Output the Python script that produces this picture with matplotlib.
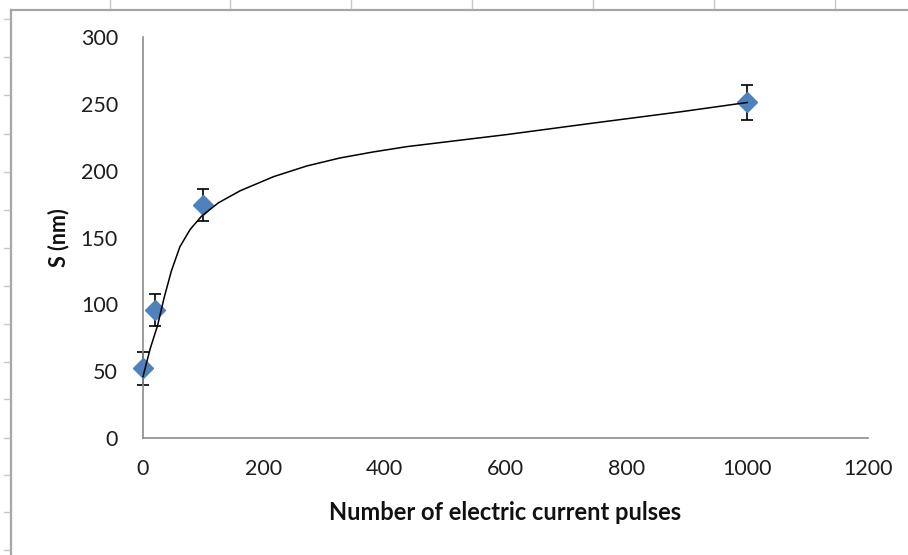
import matplotlib
matplotlib.use('Agg')
import matplotlib.pyplot as plt
from matplotlib.lines import Line2D

# Data
pulses = [0, 20, 100, 1000]
size_nm = [52, 96, 174, 251]
size_err = [12, 12, 12, 13]

# Trend curve
curve_x = [0, 12, 24, 35, 47, 61, 78, 97, 125, 161, 216, 271, 326, 381, 437, 492, 547, 602, 735, 889, 1000]
curve_y = [46, 67, 84, 105, 125, 143, 156, 166, 176, 185, 195.5, 203.5, 209.5, 214, 218, 221, 224, 227, 235, 244, 251]

x_ticks = [0, 200, 400, 600, 800, 1000, 1200]
y_ticks = [0, 50, 100, 150, 200, 250, 300]

matplotlib.rcParams['font.family'] = ['Lato', 'DejaVu Sans']

W, H = 908, 555
fig = plt.figure(figsize=(W / 100, H / 100), dpi=100)
fig.patch.set_facecolor('white')

# Plot area in pixels: x 143..868, y 37..438
ax = fig.add_axes([143 / W, 1 - 438 / H, (868 - 143) / W, (438 - 37) / H])

eb = ax.errorbar(pulses, size_nm, yerr=size_err, fmt='none', ecolor='black',
                 elinewidth=1.2, capsize=4, capthick=1.2, zorder=2)
for artist in eb.lines[1] + eb.lines[2]:
    artist.set_clip_on(False)
ax.plot(pulses, size_nm, linestyle='none', marker='D', markersize=10,
        color='#4F81BD', markeredgecolor='#4F81BD', zorder=3, clip_on=False)
ax.plot(curve_x, curve_y, color='black', linewidth=1.1, zorder=4,
        solid_joinstyle='round', clip_on=False)

ax.set_xlim(0, 1200)
ax.set_ylim(0, 300)
ax.set_xticks(x_ticks)
ax.set_yticks(y_ticks)
ax.tick_params(length=0, labelsize=15.5, colors='#1e1e1e')
ax.tick_params(axis='y', pad=18)
ax.tick_params(axis='x', pad=15)

for side in ('top', 'right'):
    ax.spines[side].set_visible(False)
for side in ('left', 'bottom'):
    ax.spines[side].set_color('#8c8c8c')
    ax.spines[side].set_linewidth(1.2)

ax.set_xlabel('Number of electric current pulses', fontsize=17,
              fontweight='bold', color='#111111', labelpad=16)
ax.set_ylabel('S (nm)', fontsize=15.5, fontweight='bold', color='#111111',
              labelpad=8)


# Outer chart frame and ruler marks (in pixel coordinates)
def px_line(x0, y0, x1, y1, color, lw):
    fig.add_artist(Line2D([x0 / W, x1 / W], [1 - y0 / H, 1 - y1 / H],
                          transform=fig.transFigure, color=color, linewidth=lw))


px_line(11, 10, 908, 10, '#a6a6a6', 1.6)
px_line(11, 10, 11, 555, '#a6a6a6', 1.6)
for tx in [110, 230, 351, 472, 593, 714, 835]:
    px_line(tx, 0, tx, 8, '#c8c8c8', 1.0)
for ty in [19, 57, 95, 134, 172, 210, 248, 286, 324, 362, 399, 438, 475, 512, 550]:
    px_line(4, ty, 9, ty, '#c8c8c8', 1.0)

fig.savefig('out.png', dpi=100, facecolor='white')
